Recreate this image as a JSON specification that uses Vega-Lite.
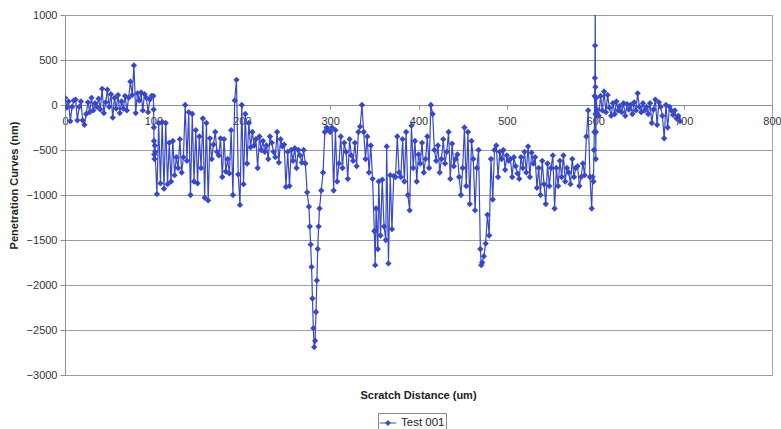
{
  "$schema": "https://vega.github.io/schema/vega-lite/v6.json",
  "width": 707,
  "height": 360,
  "autosize": {"type": "none"},
  "padding": {"left": 65, "top": 15, "right": 9, "bottom": 54},
  "background": "white",
  "config": {
    "font": "Liberation Sans",
    "view": {"stroke": "#a4a4b4", "strokeWidth": 1}
  },
  "data": {"values": [
    {"x":0,"y":80},{"x":2,"y":-30},{"x":4,"y":40},{"x":6,"y":-180},{"x":8,"y":-20},{"x":10,"y":50},{"x":12,"y":60},{"x":14,"y":-170},{"x":16,"y":-20},{"x":18,"y":40},
    {"x":20,"y":-170},{"x":22,"y":-220},{"x":24,"y":-100},{"x":26,"y":30},{"x":28,"y":-80},{"x":30,"y":80},{"x":32,"y":-60},{"x":34,"y":20},{"x":36,"y":-20},{"x":38,"y":70},
    {"x":40,"y":-50},{"x":42,"y":180},{"x":44,"y":-90},{"x":46,"y":30},{"x":48,"y":170},{"x":50,"y":-20},{"x":52,"y":120},{"x":54,"y":-140},{"x":56,"y":80},{"x":58,"y":-40},
    {"x":60,"y":110},{"x":62,"y":-90},{"x":64,"y":40},{"x":66,"y":-40},{"x":68,"y":100},{"x":70,"y":-60},{"x":72,"y":80},{"x":74,"y":260},{"x":76,"y":110},{"x":78,"y":440},
    {"x":80,"y":-90},{"x":82,"y":130},{"x":84,"y":50},{"x":86,"y":140},{"x":88,"y":-60},{"x":90,"y":120},{"x":92,"y":80},{"x":94,"y":-80},{"x":96,"y":60},{"x":98,"y":100},
    {"x":100,"y":100},{"x":100.3,"y":-50},{"x":100.5,"y":-250},{"x":100.7,"y":-400},{"x":101,"y":-550},{"x":101.3,"y":-600},{"x":101.6,"y":-450},{"x":102,"y":-520},
    {"x":104,"y":-990},{"x":106,"y":-200},{"x":108,"y":-870},{"x":110,"y":-190},{"x":112,"y":-930},{"x":114,"y":-200},{"x":116,"y":-880},{"x":118,"y":-420},{"x":120,"y":-850},
    {"x":122,"y":-400},{"x":124,"y":-780},{"x":126,"y":-580},{"x":128,"y":-700},{"x":130,"y":-380},{"x":132,"y":-750},{"x":134,"y":-580},{"x":136,"y":0},{"x":138,"y":-620},{"x":140,"y":-80},
    {"x":142,"y":-1000},{"x":144,"y":-100},{"x":146,"y":-850},{"x":148,"y":-280},{"x":150,"y":-870},{"x":152,"y":-350},{"x":154,"y":-700},{"x":156,"y":-150},{"x":158,"y":-1030},{"x":160,"y":-200},
    {"x":162,"y":-1060},{"x":164,"y":-370},{"x":166,"y":-600},{"x":168,"y":-440},{"x":170,"y":-300},{"x":172,"y":-520},{"x":174,"y":-560},{"x":176,"y":-370},{"x":178,"y":-800},{"x":180,"y":-380},
    {"x":182,"y":-740},{"x":184,"y":-600},{"x":186,"y":-760},{"x":188,"y":-280},{"x":190,"y":-1000},{"x":192,"y":50},{"x":194,"y":280},{"x":196,"y":-770},{"x":198,"y":-1110},{"x":200,"y":0},
    {"x":202,"y":-880},{"x":204,"y":-100},{"x":206,"y":-650},{"x":208,"y":-200},{"x":210,"y":-470},{"x":212,"y":-300},{"x":214,"y":-450},{"x":216,"y":-380},{"x":218,"y":-700},{"x":220,"y":-350},
    {"x":222,"y":-500},{"x":224,"y":-400},{"x":226,"y":-520},{"x":228,"y":-450},{"x":230,"y":-600},{"x":232,"y":-350},{"x":234,"y":-420},{"x":236,"y":-520},{"x":238,"y":-580},{"x":240,"y":-300},
    {"x":242,"y":-640},{"x":244,"y":-380},{"x":246,"y":-460},{"x":248,"y":-440},{"x":250,"y":-910},{"x":252,"y":-520},{"x":254,"y":-900},{"x":256,"y":-500},{"x":258,"y":-620},{"x":260,"y":-480},
    {"x":262,"y":-700},{"x":264,"y":-500},{"x":266,"y":-560},{"x":268,"y":-640},{"x":270,"y":-500},{"x":272,"y":-650},{"x":274,"y":-970},{"x":276,"y":-1130},{"x":277,"y":-1350},{"x":278,"y":-1550},
    {"x":279,"y":-1800},{"x":280,"y":-2150},{"x":281,"y":-2480},{"x":282,"y":-2690},{"x":283,"y":-2620},{"x":284,"y":-2300},{"x":285,"y":-1950},{"x":286,"y":-1600},{"x":287,"y":-1350},{"x":288,"y":-1150},
    {"x":290,"y":-950},{"x":292,"y":-750},{"x":294,"y":-300},{"x":296,"y":-250},{"x":298,"y":-280},{"x":300,"y":-300},{"x":302,"y":-250},{"x":304,"y":-950},{"x":306,"y":-280},{"x":308,"y":-850},
    {"x":310,"y":-650},{"x":312,"y":-350},{"x":314,"y":-700},{"x":316,"y":-420},{"x":318,"y":-520},{"x":320,"y":-820},{"x":322,"y":-380},{"x":324,"y":-560},{"x":326,"y":-620},{"x":328,"y":-420},
    {"x":330,"y":-680},{"x":332,"y":-300},{"x":334,"y":-240},{"x":336,"y":0},{"x":338,"y":-300},{"x":340,"y":-600},{"x":342,"y":-350},{"x":344,"y":-750},{"x":346,"y":-450},{"x":348,"y":-820},
    {"x":350,"y":-1400},{"x":351,"y":-1780},{"x":352,"y":-1150},{"x":354,"y":-1600},{"x":355,"y":-850},{"x":357,"y":-1450},{"x":359,"y":-830},{"x":361,"y":-1350},{"x":363,"y":-1500},{"x":364,"y":-460},
    {"x":366,"y":-1760},{"x":368,"y":-780},{"x":370,"y":-1380},{"x":372,"y":-790},{"x":374,"y":-800},{"x":376,"y":-350},{"x":378,"y":-750},{"x":380,"y":-800},{"x":382,"y":-380},{"x":384,"y":-850},
    {"x":386,"y":-300},{"x":388,"y":-1000},{"x":390,"y":-1170},{"x":392,"y":-230},{"x":394,"y":-700},{"x":396,"y":-400},{"x":398,"y":-850},{"x":400,"y":-550},{"x":402,"y":-650},{"x":404,"y":-420},
    {"x":406,"y":-750},{"x":408,"y":-600},{"x":410,"y":-350},{"x":412,"y":-700},{"x":414,"y":0},{"x":416,"y":-100},{"x":418,"y":-500},{"x":420,"y":-620},{"x":422,"y":-450},{"x":424,"y":-750},
    {"x":426,"y":-600},{"x":428,"y":-380},{"x":430,"y":-650},{"x":432,"y":-520},{"x":434,"y":-300},{"x":436,"y":-820},{"x":438,"y":-430},{"x":440,"y":-680},{"x":442,"y":-600},{"x":444,"y":-550},
    {"x":446,"y":-800},{"x":448,"y":-1000},{"x":450,"y":-700},{"x":452,"y":-250},{"x":454,"y":-900},{"x":456,"y":-300},{"x":458,"y":-1100},{"x":460,"y":-400},{"x":462,"y":-600},{"x":464,"y":-1170},
    {"x":466,"y":-700},{"x":468,"y":-500},{"x":470,"y":-1600},{"x":471,"y":-1780},{"x":472,"y":-1750},{"x":474,"y":-1680},{"x":476,"y":-1540},{"x":478,"y":-1220},{"x":480,"y":-1450},{"x":482,"y":-600},
    {"x":484,"y":-1050},{"x":486,"y":-500},{"x":488,"y":-450},{"x":490,"y":-800},{"x":492,"y":-520},{"x":494,"y":-600},{"x":496,"y":-500},{"x":498,"y":-720},{"x":500,"y":-560},{"x":502,"y":-620},
    {"x":504,"y":-600},{"x":506,"y":-800},{"x":508,"y":-580},{"x":510,"y":-680},{"x":512,"y":-760},{"x":514,"y":-820},{"x":516,"y":-580},{"x":518,"y":-700},{"x":520,"y":-520},{"x":522,"y":-750},
    {"x":524,"y":-460},{"x":526,"y":-800},{"x":528,"y":-530},{"x":530,"y":-650},{"x":532,"y":-580},{"x":534,"y":-920},{"x":536,"y":-700},{"x":538,"y":-1000},{"x":540,"y":-620},{"x":542,"y":-880},
    {"x":544,"y":-1100},{"x":546,"y":-650},{"x":548,"y":-900},{"x":550,"y":-700},{"x":552,"y":-560},{"x":554,"y":-1150},{"x":556,"y":-700},{"x":558,"y":-900},{"x":560,"y":-620},{"x":562,"y":-800},
    {"x":564,"y":-560},{"x":566,"y":-850},{"x":568,"y":-700},{"x":570,"y":-750},{"x":572,"y":-880},{"x":574,"y":-600},{"x":576,"y":-800},{"x":578,"y":-700},{"x":580,"y":-680},{"x":582,"y":-900},
    {"x":584,"y":-800},{"x":586,"y":-650},{"x":588,"y":-780},{"x":590,"y":-350},{"x":592,"y":-60},{"x":594,"y":-800},{"x":596,"y":-1150},{"x":597,"y":-800},{"x":598,"y":-850},{"x":598.5,"y":-500},
    {"x":599,"y":-300},{"x":599.3,"y":100},{"x":599.6,"y":300},{"x":599.8,"y":660},{"x":600,"y":1200},{"x":600.2,"y":200},{"x":600.4,"y":-100},{"x":600.6,"y":-600},{"x":600.8,"y":-300},{"x":601,"y":80},
    {"x":602,"y":-50},{"x":604,"y":-120},{"x":606,"y":100},{"x":608,"y":-60},{"x":610,"y":150},{"x":612,"y":-80},{"x":614,"y":110},{"x":616,"y":-30},{"x":618,"y":-120},{"x":620,"y":20},
    {"x":622,"y":-100},{"x":624,"y":40},{"x":626,"y":-60},{"x":628,"y":-10},{"x":630,"y":-80},{"x":632,"y":20},{"x":634,"y":-120},{"x":636,"y":10},{"x":638,"y":-50},{"x":640,"y":0},
    {"x":642,"y":-100},{"x":644,"y":30},{"x":646,"y":-60},{"x":648,"y":130},{"x":650,"y":-20},{"x":652,"y":-80},{"x":654,"y":20},{"x":656,"y":-60},{"x":658,"y":-20},{"x":660,"y":-100},
    {"x":662,"y":20},{"x":664,"y":-200},{"x":666,"y":-50},{"x":668,"y":60},{"x":670,"y":-220},{"x":672,"y":30},{"x":674,"y":-20},{"x":676,"y":-120},{"x":678,"y":-370},{"x":680,"y":0},
    {"x":682,"y":-250},{"x":684,"y":-20},{"x":686,"y":-60},{"x":688,"y":-110},{"x":690,"y":-60},{"x":692,"y":-150},{"x":694,"y":-120},{"x":696,"y":-180}
  ]},
  "mark": {
    "type": "line",
    "clip": true,
    "strokeWidth": 1.2,
    "point": {"shape": "diamond", "size": 40, "filled": true, "clip": true}
  },
  "encoding": {
    "x": {
      "field": "x", "type": "quantitative",
      "scale": {"domain": [0, 800], "nice": false, "zero": false},
      "axis": {
        "orient": "bottom",
        "offset": -270,
        "values": [0, 100, 200, 300, 400, 500, 600, 700, 800],
        "grid": false,
        "domainColor": "#8c8c9c",
        "tickColor": "#8c8c9c",
        "tickSize": 4,
        "labelPadding": 6,
        "labelFontSize": 11,
        "labelColor": "#333333",
        "labelFlush": false,
        "title": "Scratch Distance (um)",
        "titleFontSize": 11,
        "titleFontWeight": "bold",
        "titleColor": "#222222",
        "titleX": 353,
        "titleY": 290,
        "titleBaseline": "middle"
      }
    },
    "y": {
      "field": "y", "type": "quantitative",
      "scale": {"domain": [-3000, 1000], "nice": false, "zero": false},
      "axis": {
        "values": [-3000, -2500, -2000, -1500, -1000, -500, 0, 500, 1000],
        "format": "d",
        "grid": true,
        "gridColor": "#9a9aae",
        "gridWidth": 1,
        "domainColor": "#8c8c9c",
        "tickColor": "#8c8c9c",
        "tickSize": 5,
        "labelPadding": 3,
        "labelFontSize": 11,
        "labelColor": "#333333",
        "title": "Penetration Curves (nm)",
        "titleFontSize": 11,
        "titleFontWeight": "bold",
        "titleColor": "#222222",
        "titleAngle": 270,
        "titleX": -51,
        "titleY": 170,
        "titleAlign": "center",
        "titleBaseline": "middle"
      }
    },
    "color": {
      "datum": "Test 001",
      "type": "nominal",
      "scale": {"range": ["#3848c8"]},
      "legend": {
        "orient": "none",
        "legendX": 313,
        "legendY": 398,
        "title": null,
        "strokeColor": "#888888",
        "padding": 1,
        "symbolType": "M-1,0H1M0,-0.3L0.3,0L0,0.3L-0.3,0Z",
        "symbolSize": 270,
        "symbolStrokeWidth": 1,
        "symbolFillColor": "#3848c8",
        "labelFontSize": 11.5,
        "labelColor": "#222222",
        "labelOffset": 4
      }
    }
  }
}
